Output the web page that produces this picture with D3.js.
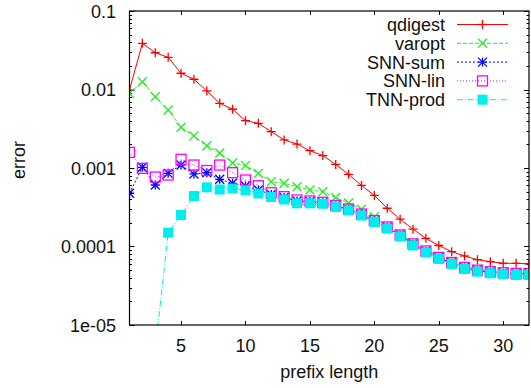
<!DOCTYPE html>
<html>
<head>
<meta charset="utf-8">
<script src="https://cdn.jsdelivr.net/npm/d3@7"></script>
<style>
  body { margin: 0; background: #fff; }
  text { font-family: "Liberation Sans", Arial, sans-serif; font-size: 18px; fill: #111; }
</style>
</head>
<body>
<div id="chart"></div>
<script>
// prefix length 1..32
var prefixLen = d3.range(1, 33);

var qdigest = [0.00986, 0.0388, 0.0294, 0.0257, 0.0161, 0.0135, 0.0096, 0.00667, 0.0056, 0.00401,
  0.00371, 0.0029, 0.00228, 0.00202, 0.00166, 0.00144, 0.00111, 0.00083, 0.000599, 0.000447,
  0.000307, 0.000223, 0.000166, 0.000127, 0.000103, 0.0000859, 0.0000757, 0.0000679, 0.0000641, 0.0000611,
  0.000061, 0.0000602];

var varopt = [0.00895, 0.01256, 0.00809, 0.00548, 0.0033, 0.00256, 0.00192, 0.00155, 0.00116, 0.00108,
  0.000851, 0.000668, 0.000638, 0.000578, 0.000525, 0.000499, 0.000421, 0.000358, 0.000298, 0.000238,
  0.000183, 0.000145, 0.000112, 0.00009, 0.0000745, 0.0000643, 0.0000555, 0.0000513, 0.000049, 0.0000475,
  0.0000466, 0.0000465];

var snnSum = [0.000477, 0.00102, 0.000607, 0.000855, 0.00109, 0.00084, 0.000871, 0.000718, 0.000638, 0.00059,
  0.000525, 0.000459, 0.000421, 0.00038, 0.000374, 0.00036, 0.000327, 0.000297, 0.000255, 0.000211,
  0.000174, 0.000138, 0.000107, 0.0000865, 0.0000714, 0.0000616, 0.0000533, 0.0000492, 0.000047, 0.0000456,
  0.0000447, 0.0000446];

var snnLin = [0.00158, 0.00099, 0.000767, 0.000814, 0.00129, 0.00109, 0.000929, 0.00109, 0.000871, 0.000703,
  0.000595, 0.000484, 0.000431, 0.000391, 0.00038, 0.000366, 0.000333, 0.000301, 0.000259, 0.000214,
  0.000177, 0.00014, 0.000108, 0.0000877, 0.0000724, 0.0000625, 0.000054, 0.00005, 0.0000477, 0.0000463,
  0.0000454, 0.0000452];

// TNN-prod has no usable value for lengths 1-2
var tnnProd = [null, null, 0.0000048, 0.00015, 0.000252, 0.00044, 0.000567, 0.000532, 0.000548, 0.00052,
  0.000473, 0.000427, 0.000396, 0.000355, 0.000355, 0.00035, 0.000318, 0.000288, 0.000248, 0.000205,
  0.000169, 0.000134, 0.000103, 0.0000839, 0.0000693, 0.0000598, 0.0000517, 0.0000478, 0.0000456, 0.0000443,
  0.0000434, 0.0000434];

var seriesNames = ["qdigest", "varopt", "SNN-sum", "SNN-lin", "TNN-prod"];
var seriesValues = [qdigest, varopt, snnSum, snnLin, tnnProd];
var seriesColors = ["#ff0000", "#22ee22", "#0000ff", "#ff00ff", "#00eeee"];
var seriesDash = [null, "4,2", "2,2", "1,2", "6,2,1,2"];
var seriesMarker = ["plus", "cross", "star", "box", "fbox"];

var xTicks = [5, 10, 15, 20, 25, 30];
var yTicks = [0.1, 0.01, 0.001, 0.0001, 0.00001];
var yTickLabels = ["0.1", "0.01", "0.001", "0.0001", "1e-05"];

var width = 531,
    height = 388;
var margin = { left: 129.5, right: 2, top: 11, bottom: 63 };

var svg = d3.select("#chart").append("svg")
    .attr("width", width)
    .attr("height", height);

var x = d3.scaleLinear()
    .domain([1, 32])
    .range([margin.left, width - margin.right]);

var y = d3.scaleLog()
    .domain([0.00001, 0.1])
    .range([height - margin.bottom, margin.top]);

svg.append("clipPath").attr("id", "plotclip")
  .append("rect")
    .attr("x", x(1)).attr("y", y(0.1))
    .attr("width", x(32) - x(1)).attr("height", y(0.00001) - y(0.1));

// ticks, mirrored on all four sides
var ticks = svg.append("g").attr("stroke", "#000").attr("stroke-width", 1);
xTicks.forEach(function(t) {
  var px = Math.round(x(t)) + 0.5;
  ticks.append("line").attr("x1", px).attr("x2", px).attr("y1", y(0.00001)).attr("y2", y(0.00001) - 4);
  ticks.append("line").attr("x1", px).attr("x2", px).attr("y1", y(0.1)).attr("y2", y(0.1) + 4);
});
for (var e = -5; e < -1 + 0.5; e++) {
  for (var m = 1; m <= 9; m++) {
    var v = m * Math.pow(10, e);
    if (v > 0.1 + 1e-9) break;
    var len = m === 1 ? 5 : 2.5;
    var py = Math.round(y(v)) + 0.5;
    ticks.append("line").attr("x1", x(1)).attr("x2", x(1) + len).attr("y1", py).attr("y2", py);
    ticks.append("line").attr("x1", x(32)).attr("x2", x(32) - len).attr("y1", py).attr("y2", py);
  }
}

// tick labels
svg.append("g").selectAll("text")
  .data(xTicks)
  .enter().append("text")
    .attr("x", function(d) { return x(d); })
    .attr("y", 352)
    .attr("text-anchor", "middle")
    .text(function(d) { return d; });

svg.append("g").selectAll("text")
  .data(yTicks)
  .enter().append("text")
    .attr("x", 116)
    .attr("y", function(d) { return y(d) + 6.5; })
    .attr("text-anchor", "end")
    .text(function(d, i) { return yTickLabels[i]; });

// axis titles
svg.append("text")
    .attr("x", (x(1) + x(32)) / 2)
    .attr("y", 378)
    .attr("text-anchor", "middle")
    .text("prefix length");

svg.append("text")
    .attr("transform", "translate(25,160) rotate(-90)")
    .attr("text-anchor", "middle")
    .text("error");

function drawMarker(g, type, cx, cy, color) {
  var s = 4.5;
  var sw = 1.3;
  if (type === "plus" || type === "star") {
    g.append("line").attr("x1", cx - s).attr("x2", cx + s).attr("y1", cy).attr("y2", cy).attr("stroke", color).attr("stroke-width", sw);
    g.append("line").attr("x1", cx).attr("x2", cx).attr("y1", cy - s).attr("y2", cy + s).attr("stroke", color).attr("stroke-width", sw);
  }
  if (type === "cross" || type === "star") {
    g.append("line").attr("x1", cx - s).attr("x2", cx + s).attr("y1", cy - s).attr("y2", cy + s).attr("stroke", color).attr("stroke-width", sw);
    g.append("line").attr("x1", cx - s).attr("x2", cx + s).attr("y1", cy + s).attr("y2", cy - s).attr("stroke", color).attr("stroke-width", sw);
  }
  if (type === "box") {
    g.append("rect").attr("x", cx - 5).attr("y", cy - 5).attr("width", 10).attr("height", 10)
      .attr("fill", "none").attr("stroke", color).attr("stroke-width", sw);
  }
  if (type === "fbox") {
    g.append("rect").attr("x", cx - 5).attr("y", cy - 5).attr("width", 10).attr("height", 10)
      .attr("fill", color);
  }
}

var line = d3.line()
    .defined(function(d) { return d[1] != null; })
    .x(function(d) { return x(d[0]); })
    .y(function(d) { return y(d[1]); });

var plot = svg.append("g").attr("clip-path", "url(#plotclip)");

seriesValues.forEach(function(vals, i) {
  var pts = prefixLen.map(function(p, j) { return [p, vals[j]]; });
  var g = plot.append("g");
  g.append("path")
      .attr("d", line(pts))
      .attr("fill", "none")
      .attr("stroke", seriesColors[i])
      .attr("stroke-width", 1)
      .attr("stroke-dasharray", seriesDash[i]);
  pts.forEach(function(p) {
    if (p[1] == null) return;
    drawMarker(g, seriesMarker[i], x(p[0]), y(p[1]), seriesColors[i]);
  });
});

// border
svg.append("rect")
    .attr("x", x(1)).attr("y", y(0.1))
    .attr("width", x(32) - x(1)).attr("height", y(0.00001) - y(0.1))
    .attr("fill", "none").attr("stroke", "#000").attr("stroke-width", 1.2);

// legend
var legend = svg.append("g");
seriesNames.forEach(function(name, i) {
  var ly = 24.5 + i * 18.8;
  legend.append("text")
      .attr("x", 445)
      .attr("y", ly + 6.5)
      .attr("text-anchor", "end")
      .text(name);
  legend.append("line")
      .attr("x1", 457).attr("x2", 508)
      .attr("y1", ly).attr("y2", ly)
      .attr("stroke", seriesColors[i])
      .attr("stroke-dasharray", seriesDash[i]);
  drawMarker(legend, seriesMarker[i], 482.5, ly, seriesColors[i]);
});
</script>
</body>
</html>
